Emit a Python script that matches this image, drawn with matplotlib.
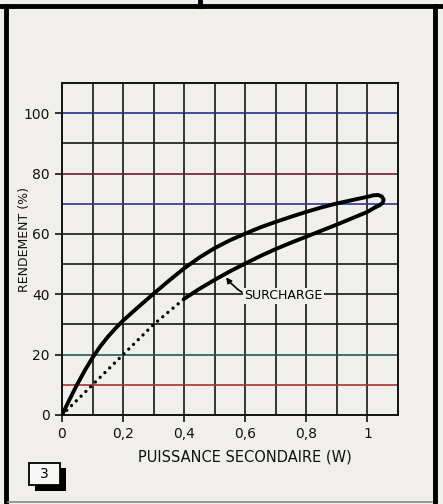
import matplotlib.pyplot as plt
import numpy as np
from matplotlib.patches import Rectangle
from matplotlib.lines import Line2D

plt.rcParams.update({'font.size': 10, 'font.family': 'DejaVu Sans'})

# efficiency loop: rising branch, then the overload branch coming back
upper_p = [0, 0.025, 0.05, 0.075, 0.1, 0.125, 0.15, 0.175, 0.2, 0.25, 0.3, 0.35,
           0.4, 0.45, 0.5, 0.55, 0.6, 0.65, 0.7, 0.75, 0.8, 0.85, 0.9, 0.95,
           1.0, 1.02, 1.035, 1.047, 1.053, 1.05, 1.04, 1.025]
upper_r = [0, 5.2, 10.2, 14.8, 19, 22.7, 25.9, 28.7, 31.3, 35.8, 40.2, 44.5,
           48.6, 52.2, 55.3, 57.9, 60.1, 62.2, 64, 65.7, 67.3, 68.8, 70.1, 71.2,
           72.3, 72.8, 72.9, 72.4, 71.4, 70.3, 69.5, 68.8]
lower_p = [1.025, 1.0, 0.95, 0.9, 0.85, 0.8, 0.75, 0.7, 0.65, 0.6, 0.55, 0.5,
           0.45, 0.4]
lower_r = [68.8, 67.3, 65.2, 63.1, 61.1, 59.1, 57.1, 55, 52.7, 50.2, 47.6, 44.8,
           41.8, 38.5]
dotted_p = [0, 0.1, 0.2, 0.3, 0.4]
dotted_r = [0, 10, 20, 30, 38.5]

xticks = [0, 0.2, 0.4, 0.6, 0.8, 1.0]
xtick_labels = ['0', '0,2', '0,4', '0,6', '0,8', '1']
yticks = [0, 20, 40, 60, 80, 100]
ytick_labels = ['0', '20', '40', '60', '80', '100']

paper = '#f0efec'
W, H = 443, 504

fig = plt.figure(figsize=(W / 100, H / 100), dpi=100, facecolor=paper)
ax = fig.add_axes([62 / W, 1 - 415 / H, 336 / W, 332 / H])
ax.set_facecolor(paper)

# grid, with the slight print tint on some horizontal rules
for xv in np.arange(1, 11) / 10:
    ax.axvline(xv, color='#161616', lw=1.2, zorder=1)
hcolors = {10: '#b03030', 20: '#1d5c5c', 70: '#2a3590', 80: '#6b1f2c', 100: '#1f2f8f'}
for yv in range(10, 110, 10):
    ax.axhline(yv, color=hcolors.get(yv, '#161616'), lw=1.2, zorder=1)

ax.plot(upper_p, upper_r, color='black', lw=2.8, solid_capstyle='round',
        solid_joinstyle='round', zorder=3)
ax.plot(lower_p, lower_r, color='black', lw=2.8, solid_capstyle='round',
        solid_joinstyle='round', zorder=3)
ax.plot(dotted_p, dotted_r, color='black', lw=2.4, linestyle=(0, (0.01, 2.0)),
        dash_capstyle='round', zorder=3)

ax.annotate('SURCHARGE', xy=(0.537, 45.6), xytext=(0.597, 39.5),
            fontsize=9, ha='left', va='center', zorder=4,
            bbox=dict(boxstyle='square,pad=0.1', fc=paper, ec='none'),
            arrowprops=dict(arrowstyle='-|>', color='black', lw=1.2,
                            mutation_scale=8, shrinkA=1, shrinkB=0,
                            connectionstyle='arc3,rad=-0.35'))

ax.set_xlim(0, 1.1)
ax.set_ylim(0, 110)
ax.set_xticks(xticks)
ax.set_xticklabels(xtick_labels)
ax.set_yticks(yticks)
ax.set_yticklabels(ytick_labels)
ax.tick_params(length=5, width=1.2, pad=4, labelsize=10, colors='#111111')
for s in ax.spines.values():
    s.set_linewidth(1.4)
    s.set_color('#111111')

fig.text(245 / W, 1 - 457 / H, 'PUISSANCE SECONDAIRE (W)', ha='center', va='center',
         fontsize=10.5, color='#111111')
fig.text(25 / W, 1 - 240 / H, 'RENDEMENT (%)', ha='center', va='center',
         rotation=90, fontsize=9, color='#111111')

# figure number box with drop shadow
def px_rect(x0, y0, x1, y1, **kw):
    return Rectangle((x0 / W, 1 - y1 / H), (x1 - x0) / W, (y1 - y0) / H,
                     transform=fig.transFigure, **kw)

fig.patches.append(px_rect(35, 468, 66, 491, fc='black', ec='none'))
fig.patches.append(px_rect(29, 463, 60, 485, fc='#f7f7f5', ec='black', lw=1.3))
fig.text(44.5 / W, 1 - 474 / H, '3', ha='center', va='center', fontsize=10)

# page frame
frame = [((5.5, 5.5), (6, H)), ((0, W), (6, 6)), ((434.5, 434.5), (6, H)),
         ((200, 200), (0, 6))]
for xs, ys in frame:
    fig.add_artist(Line2D([x / W for x in xs], [1 - y / H for y in ys],
                          transform=fig.transFigure, color='black', lw=3.5))
fig.add_artist(Line2D([8 / W, 432 / W], [1 - 502 / H, 1 - 502 / H],
                      transform=fig.transFigure, color='#888888', lw=1.2))

fig.savefig('out.png', dpi=100, facecolor=paper)
